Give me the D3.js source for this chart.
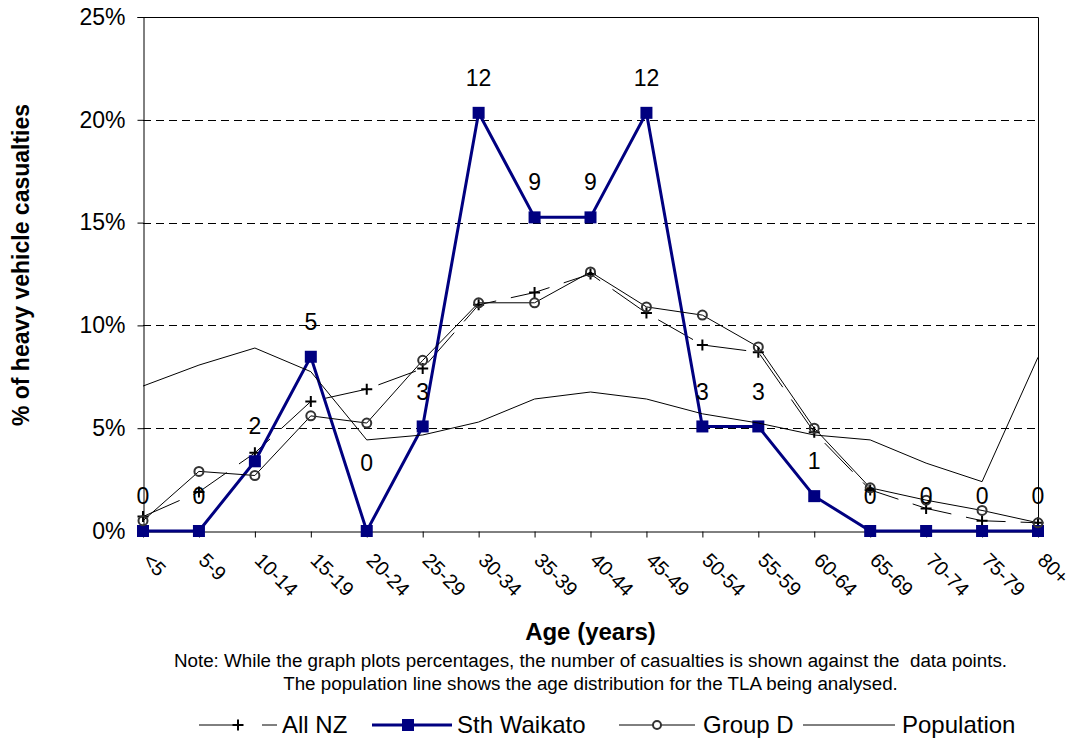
<!DOCTYPE html>
<html>
<head>
<meta charset="utf-8">
<script src="https://cdn.jsdelivr.net/npm/d3@7"></script>
<style>
  html, body { margin: 0; padding: 0; background: #fff; }
  svg { display: block; font-family: "Liberation Sans", Arial, sans-serif; }
</style>
</head>
<body>
<svg id="chart" width="1073" height="740"></svg>
<script>
// Age groups along the x axis
const ageGroups = ["<5", "5-9", "10-14", "15-19", "20-24", "25-29", "30-34", "35-39",
  "40-44", "45-49", "50-54", "55-59", "60-64", "65-69", "70-74", "75-79", "80+"];

// Number of heavy vehicle casualties in Sth Waikato per age group
const sthWaikatoCounts = [0, 0, 2, 5, 0, 3, 12, 9, 9, 12, 3, 3, 1, 0, 0, 0, 0];

// Share of casualties (%) for the comparison series
const allNZ = [0.7, 1.9, 3.8, 6.3, 6.9, 7.9, 11.0, 11.6, 12.5, 10.6, 9.05, 8.7, 4.8, 2.0, 1.1, 0.5, 0.4];
const groupD = [0.5, 2.9, 2.7, 5.6, 5.25, 8.3, 11.1, 11.1, 12.6, 10.9, 10.5, 8.95, 5.0, 2.1, 1.5, 1.0, 0.4];
const population = [7.05, 8.07, 8.9, 7.75, 4.43, 4.67, 5.3, 6.42, 6.76, 6.42, 5.7, 5.25, 4.67, 4.43, 3.3, 2.4, 8.45];

// Y axis ticks (%)
const yTicks = [0, 5, 10, 15, 20, 25];

// Sth Waikato percentages come straight from the counts
const totalCount = d3.sum(sthWaikatoCounts);
const sthWaikato = sthWaikatoCounts.map(c => c / totalCount * 100);

const svg = d3.select("#chart");
svg.append("rect").attr("width", 1073).attr("height", 740).attr("fill", "#fff");

const plotLeft = 143, plotRight = 1038, plotTop = 17, plotBottom = 531;
const x = d3.scalePoint().domain(ageGroups).range([plotLeft, plotRight]);
const y = d3.scaleLinear().domain([0, 25]).range([plotBottom, plotTop]);

// Dashed gridlines
svg.append("g")
  .selectAll("line")
  .data(yTicks.filter(t => t > 0 && t < 25))
  .join("line")
  .attr("x1", plotLeft).attr("x2", plotRight)
  .attr("y1", d => Math.round(y(d)) + 0.5).attr("y2", d => Math.round(y(d)) + 0.5)
  .attr("stroke", "#000").attr("stroke-width", 1)
  .attr("stroke-dasharray", "8,5");

// Plot frame (top and right edges)
svg.append("path")
  .attr("d", `M${plotLeft},${plotTop + 0.5}H${plotRight + 0.5}V${plotBottom}`)
  .attr("fill", "none").attr("stroke", "#000").attr("stroke-width", 1);

// Y axis
const yAxis = svg.append("g")
  .attr("transform", `translate(${plotLeft + 0.5},0)`)
  .call(d3.axisLeft(y).tickValues(yTicks).tickFormat(d => d + "%").tickSize(6).tickPadding(12));
yAxis.select(".domain").attr("stroke", "#000");
yAxis.selectAll("text").attr("font-size", 23).attr("fill", "#000")
  .attr("font-family", '"Liberation Sans", Arial, sans-serif');

// X axis
const xAxis = svg.append("g")
  .attr("transform", `translate(0,${plotBottom + 0.5})`)
  .call(d3.axisBottom(x).tickSize(6).tickSizeOuter(0));
xAxis.select(".domain").attr("stroke", "#000");
xAxis.selectAll("text")
  .attr("font-size", 20).attr("fill", "#000")
  .attr("font-family", '"Liberation Sans", Arial, sans-serif')
  .attr("text-anchor", "start")
  .attr("y", 0).attr("dy", "0.35em")
  .attr("transform", "translate(3,25) rotate(45)");

const line = d3.line().x((d, i) => x(ageGroups[i])).y(d => y(d));

// All NZ: long-dashed line with plus markers
svg.append("path").datum(allNZ)
  .attr("d", line).attr("fill", "none")
  .attr("stroke", "#000").attr("stroke-width", 1)
  .attr("stroke-dasharray", "40,15");
svg.append("g").selectAll("path")
  .data(allNZ)
  .join("path")
  .attr("d", (d, i) => {
    const cx = x(ageGroups[i]), cy = y(d);
    return `M${cx - 5.5},${cy}H${cx + 5.5}M${cx},${cy - 5.5}V${cy + 5.5}`;
  })
  .attr("stroke", "#000").attr("stroke-width", 2);

// Sth Waikato: navy line with square markers
svg.append("path").datum(sthWaikato)
  .attr("d", line).attr("fill", "none")
  .attr("stroke", "#000080").attr("stroke-width", 3);
svg.append("g").selectAll("rect")
  .data(sthWaikato)
  .join("rect")
  .attr("x", (d, i) => x(ageGroups[i]) - 6)
  .attr("y", d => y(d) - 6)
  .attr("width", 12).attr("height", 12)
  .attr("fill", "#000080");

// Group D: thin line with hollow circles
svg.append("path").datum(groupD)
  .attr("d", line).attr("fill", "none")
  .attr("stroke", "#000").attr("stroke-width", 1);
svg.append("g").selectAll("circle")
  .data(groupD)
  .join("circle")
  .attr("cx", (d, i) => x(ageGroups[i]))
  .attr("cy", d => y(d))
  .attr("r", 4.5)
  .attr("fill", "none").attr("stroke", "#333").attr("stroke-width", 2);

// Population distribution
svg.append("path").datum(population)
  .attr("d", line).attr("fill", "none")
  .attr("stroke", "#000").attr("stroke-width", 1);

// Casualty counts above the Sth Waikato points (the 20-24 label sits higher)
const labelLift = ageGroups.map(g => g === "20-24" ? 68 : 35);
svg.append("g").selectAll("text")
  .data(sthWaikatoCounts)
  .join("text")
  .attr("x", (d, i) => x(ageGroups[i]))
  .attr("y", (d, i) => y(sthWaikato[i]) - labelLift[i])
  .attr("dy", "0.35em")
  .attr("text-anchor", "middle")
  .attr("font-size", 23)
  .attr("fill", "#000")
  .text(d => d);

// Axis titles
svg.append("text")
  .attr("transform", `translate(21,${(plotTop + plotBottom) / 2 - 9}) rotate(-90)`)
  .attr("text-anchor", "middle").attr("dy", "0.35em")
  .attr("font-size", 23).attr("font-weight", "bold")
  .text("% of heavy vehicle casualties");

const midX = (plotLeft + plotRight) / 2;
svg.append("text")
  .attr("x", midX).attr("y", 632).attr("dy", "0.35em")
  .attr("text-anchor", "middle")
  .attr("font-size", 24).attr("font-weight", "bold")
  .text("Age (years)");

// Note beneath the axis title
const noteLines = [
  "Note: While the graph plots percentages, the number of casualties is shown against the  data points.",
  "The population line shows the age distribution for the TLA being analysed."
];
svg.append("g").selectAll("text")
  .data(noteLines)
  .join("text")
  .attr("x", midX)
  .attr("y", (d, i) => 660 + i * 23)
  .attr("dy", "0.35em")
  .attr("text-anchor", "middle")
  .attr("font-size", 18.8)
  .style("white-space", "pre")
  .text(d => d);

// Legend
const ly = 725;
const legend = svg.append("g");
// All NZ
legend.append("path").attr("d", `M199,${ly}H233M262,${ly}H277`)
  .attr("stroke", "#000").attr("stroke-width", 1);
legend.append("path").attr("d", `M232.5,${ly}H243.5M238,${ly - 5.5}V${ly + 5.5}`)
  .attr("stroke", "#000").attr("stroke-width", 2);
// Sth Waikato
legend.append("line").attr("x1", 372).attr("x2", 452).attr("y1", ly).attr("y2", ly)
  .attr("stroke", "#000080").attr("stroke-width", 3);
legend.append("rect").attr("x", 408 - 6).attr("y", ly - 6).attr("width", 12).attr("height", 12)
  .attr("fill", "#000080");
// Group D
legend.append("line").attr("x1", 619).attr("x2", 695).attr("y1", ly).attr("y2", ly)
  .attr("stroke", "#000").attr("stroke-width", 1);
legend.append("circle").attr("cx", 657).attr("cy", ly).attr("r", 4)
  .attr("fill", "#fff").attr("stroke", "#333").attr("stroke-width", 2);
// Population
legend.append("line").attr("x1", 803).attr("x2", 895).attr("y1", ly).attr("y2", ly)
  .attr("stroke", "#000").attr("stroke-width", 1);

const legendLabels = [
  { text: "All NZ", x: 282 },
  { text: "Sth Waikato", x: 457 },
  { text: "Group D", x: 703 },
  { text: "Population", x: 902 }
];
legend.selectAll("text.lbl")
  .data(legendLabels)
  .join("text")
  .attr("class", "lbl")
  .attr("x", d => d.x).attr("y", ly).attr("dy", "0.35em")
  .attr("font-size", 24).attr("fill", "#000")
  .text(d => d.text);
</script>
</body>
</html>
